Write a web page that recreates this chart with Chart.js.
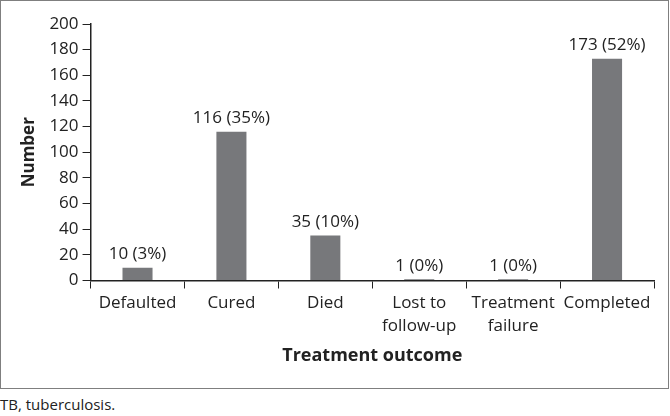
<!DOCTYPE html>
<html>
<head>
<meta charset="utf-8">
<script src="https://cdn.jsdelivr.net/npm/chart.js@4.4.0/dist/chart.umd.min.js"></script>
<style>
  body { margin: 0; background: #fff; font-family: "Open Sans", sans-serif; }
  #box { position: absolute; left: 0; top: 0; width: 667px; height: 387px; border: 1px solid #7f7f7f; }
  #cap { position: absolute; left: 0; top: 394px; font-size: 15px; color: #222; }
</style>
</head>
<body>
<div id="box"><canvas id="myChart"></canvas></div>
<div id="cap">TB, tuberculosis.</div>
<script>
const categories = ['Defaulted', 'Cured', 'Died', ['Lost to', 'follow-up'], ['Treatment', 'failure'], 'Completed'];
const counts = [10, 116, 35, 1, 1, 173];
const percents = [3, 35, 10, 0, 0, 52];
const yTicks = [0, 20, 40, 60, 80, 100, 120, 140, 160, 180, 200];

const barLabels = {
  id: 'barLabels',
  afterDatasetsDraw(chart) {
    const ctx = chart.ctx;
    const meta = chart.getDatasetMeta(0);
    ctx.save();
    ctx.font = '17px "Open Sans"';
    ctx.fillStyle = '#222';
    ctx.textAlign = 'center';
    ctx.textBaseline = 'bottom';
    meta.data.forEach((bar, i) => {
      ctx.fillText(counts[i] + ' (' + percents[i] + '%)', bar.x, bar.y - 5);
    });
    ctx.restore();
  }
};

const ctx = document.getElementById('myChart').getContext('2d');
new Chart(ctx, {
  type: 'bar',
  data: {
    labels: categories,
    datasets: [{
      data: counts,
      backgroundColor: '#77787b',
      categoryPercentage: 1,
      barPercentage: 0.32
    }]
  },
  options: {
    responsive: true,
    maintainAspectRatio: false,
    animation: false,
    layout: { padding: { top: 23, right: 14, left: 14, bottom: 17 } },
    plugins: { legend: { display: false }, tooltip: { enabled: false } },
    scales: {
      x: {
        grid: { drawOnChartArea: false, drawTicks: true, tickLength: 8, color: '#222', offset: true },
        border: { display: true, color: '#222', width: 1.5 },
        ticks: { color: '#222', font: { family: 'Open Sans', size: 17, lineHeight: 1.35 }, maxRotation: 0, autoSkip: false, padding: 3 },
        title: { display: true, text: 'Treatment outcome', color: '#222', font: { family: 'Open Sans', size: 18, weight: 'bold' }, padding: { top: 5 } }
      },
      y: {
        min: 0,
        max: 200,
        afterBuildTicks(axis) { axis.ticks = yTicks.map(v => ({ value: v })); },
        grid: { drawOnChartArea: false, drawTicks: true, tickLength: 8, color: '#222' },
        border: { display: true, color: '#222', width: 1.5 },
        ticks: { color: '#222', font: { family: 'Open Sans', size: 17 }, padding: 4 },
        title: { display: true, text: 'Number', color: '#222', font: { family: 'Open Sans', size: 17, weight: 'bold' }, padding: { bottom: 6 } }
      }
    }
  },
  plugins: [barLabels]
});
</script>
</body>
</html>
